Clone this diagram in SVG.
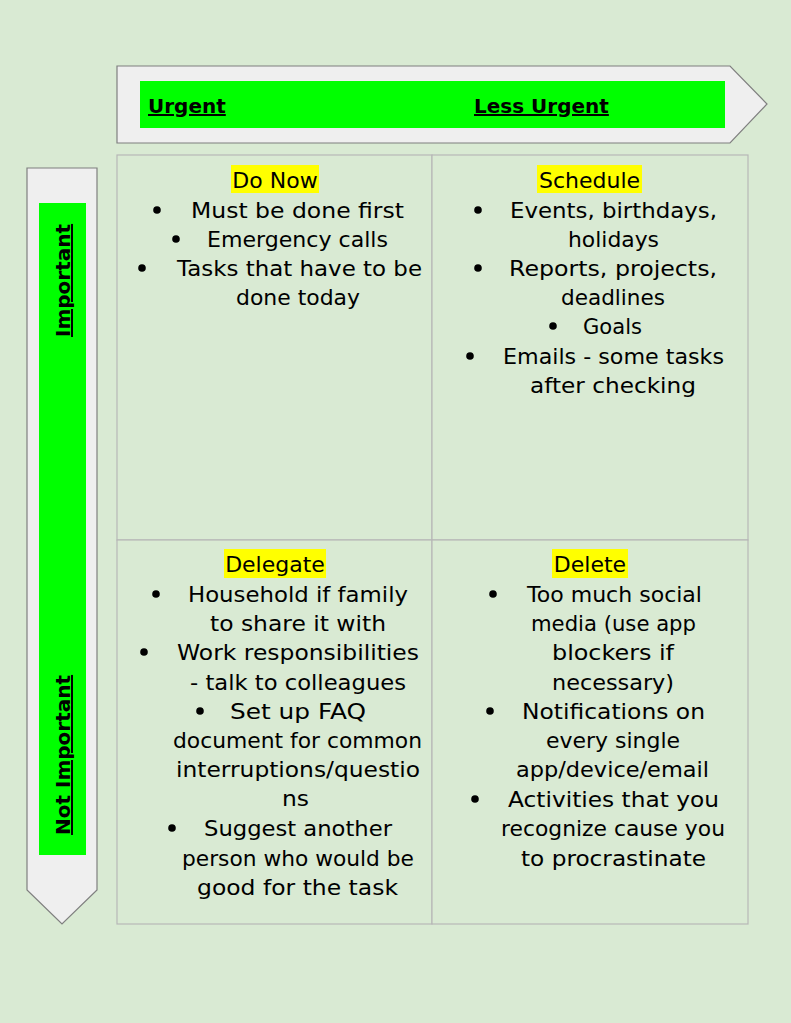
<svg xmlns="http://www.w3.org/2000/svg" width="791" height="1023" viewBox="0 0 791 1023">
<style>
.bg{fill:#d9ead3}
.arrow{fill:#efefef;stroke:#7f7f7f;stroke-width:1.2}
.band{fill:#00ff00}
.axis{font-family:"DejaVu Sans","Liberation Sans",sans-serif;font-size:20px;font-weight:bold;text-decoration:underline;fill:#000}
.cell{fill:#d9ead3;stroke:#b7b7b7;stroke-width:1.2}
.t{font-family:"DejaVu Sans","Liberation Sans",sans-serif;font-size:22px;fill:#000}
.h{text-anchor:middle}
.hl{fill:#ffff00}
.b{fill:#000}
</style>
<rect class="bg" x="0" y="0" width="791" height="1023"/>

<g id="axis-urgency">
  <polygon class="arrow" points="117,66 730,66 767,104 730,143 117,143"/>
  <rect class="band" x="140" y="81" width="585" height="47"/>
  <text class="axis" x="148" y="113">Urgent</text>
  <text class="axis" x="474" y="113">Less Urgent</text>
</g>

<g id="axis-importance">
  <polygon class="arrow" points="27,168 97,168 97,890 62,924 27,890"/>
  <rect class="band" x="39" y="203" width="47" height="652"/>
  <text class="axis" transform="translate(70,337) rotate(-90)">Important</text>
  <text class="axis" transform="translate(70,835) rotate(-90)">Not Important</text>
</g>

<g id="quadrant-do-now">
  <rect class="cell" x="117" y="155" width="315" height="385"/>
  <rect class="hl" x="231" y="165" width="88" height="28"/>
  <text class="t h" x="275" y="188">Do Now</text>
  <circle class="b" cx="157" cy="210" r="3.8"/>
  <text class="t" x="191" y="218" textLength="213" lengthAdjust="spacingAndGlyphs">Must be done first</text>
  <circle class="b" cx="176" cy="239" r="3.8"/>
  <text class="t" x="207" y="247" textLength="181" lengthAdjust="spacingAndGlyphs">Emergency calls</text>
  <circle class="b" cx="142" cy="268" r="3.8"/>
  <text class="t" x="177" y="276" textLength="245" lengthAdjust="spacingAndGlyphs">Tasks that have to be</text>
  <text class="t" x="236" y="305" textLength="124" lengthAdjust="spacingAndGlyphs">done today</text>
</g>

<g id="quadrant-schedule">
  <rect class="cell" x="432" y="155" width="316" height="385"/>
  <rect class="hl" x="537" y="165" width="105" height="28"/>
  <text class="t h" x="589.5" y="188">Schedule</text>
  <circle class="b" cx="478" cy="210" r="3.8"/>
  <text class="t" x="510" y="218" textLength="207" lengthAdjust="spacingAndGlyphs">Events, birthdays,</text>
  <text class="t" x="568" y="247" textLength="91" lengthAdjust="spacingAndGlyphs">holidays</text>
  <circle class="b" cx="478" cy="268" r="3.8"/>
  <text class="t" x="509" y="276" textLength="208" lengthAdjust="spacingAndGlyphs">Reports, projects,</text>
  <text class="t" x="561" y="305" textLength="104" lengthAdjust="spacingAndGlyphs">deadlines</text>
  <circle class="b" cx="553" cy="326" r="3.8"/>
  <text class="t" x="583" y="334" textLength="59" lengthAdjust="spacingAndGlyphs">Goals</text>
  <circle class="b" cx="470" cy="356" r="3.8"/>
  <text class="t" x="503" y="364" textLength="221" lengthAdjust="spacingAndGlyphs">Emails - some tasks</text>
  <text class="t" x="530" y="393" textLength="166" lengthAdjust="spacingAndGlyphs">after checking</text>
</g>

<g id="quadrant-delegate">
  <rect class="cell" x="117" y="540" width="315" height="384"/>
  <rect class="hl" x="224" y="549" width="102" height="29"/>
  <text class="t h" x="275" y="572">Delegate</text>
  <circle class="b" cx="156" cy="594" r="3.8"/>
  <text class="t" x="188" y="602" textLength="220" lengthAdjust="spacingAndGlyphs">Household if family</text>
  <text class="t" x="210" y="631" textLength="176" lengthAdjust="spacingAndGlyphs">to share it with</text>
  <circle class="b" cx="144" cy="652" r="3.8"/>
  <text class="t" x="177" y="660" textLength="242" lengthAdjust="spacingAndGlyphs">Work responsibilities</text>
  <text class="t" x="190" y="690" textLength="216" lengthAdjust="spacingAndGlyphs">- talk to colleagues</text>
  <circle class="b" cx="200" cy="711" r="3.8"/>
  <text class="t" x="230" y="719" textLength="136" lengthAdjust="spacingAndGlyphs">Set up FAQ</text>
  <text class="t" x="173" y="748" textLength="249" lengthAdjust="spacingAndGlyphs">document for common</text>
  <text class="t" x="176" y="777" textLength="244" lengthAdjust="spacingAndGlyphs">interruptions/questio</text>
  <text class="t" x="282" y="806" textLength="27" lengthAdjust="spacingAndGlyphs">ns</text>
  <circle class="b" cx="172" cy="828" r="3.8"/>
  <text class="t" x="204" y="836" textLength="188" lengthAdjust="spacingAndGlyphs">Suggest another</text>
  <text class="t" x="182" y="866" textLength="232" lengthAdjust="spacingAndGlyphs">person who would be</text>
  <text class="t" x="197" y="895" textLength="201" lengthAdjust="spacingAndGlyphs">good for the task</text>
</g>

<g id="quadrant-delete">
  <rect class="cell" x="432" y="540" width="316" height="384"/>
  <rect class="hl" x="552" y="549" width="76" height="29"/>
  <text class="t h" x="590" y="572">Delete</text>
  <circle class="b" cx="493" cy="594" r="3.8"/>
  <text class="t" x="527" y="602" textLength="175" lengthAdjust="spacingAndGlyphs">Too much social</text>
  <text class="t" x="531" y="631" textLength="165" lengthAdjust="spacingAndGlyphs">media (use app</text>
  <text class="t" x="552" y="660" textLength="122" lengthAdjust="spacingAndGlyphs">blockers if</text>
  <text class="t" x="552" y="690" textLength="122" lengthAdjust="spacingAndGlyphs">necessary)</text>
  <circle class="b" cx="490" cy="711" r="3.8"/>
  <text class="t" x="522" y="719" textLength="183" lengthAdjust="spacingAndGlyphs">Notifications on</text>
  <text class="t" x="546" y="748" textLength="134" lengthAdjust="spacingAndGlyphs">every single</text>
  <text class="t" x="516" y="777" textLength="193" lengthAdjust="spacingAndGlyphs">app/device/email</text>
  <circle class="b" cx="475" cy="799" r="3.8"/>
  <text class="t" x="508" y="807" textLength="211" lengthAdjust="spacingAndGlyphs">Activities that you</text>
  <text class="t" x="501" y="836" textLength="224" lengthAdjust="spacingAndGlyphs">recognize cause you</text>
  <text class="t" x="521" y="866" textLength="185" lengthAdjust="spacingAndGlyphs">to procrastinate</text>
</g>
</svg>
